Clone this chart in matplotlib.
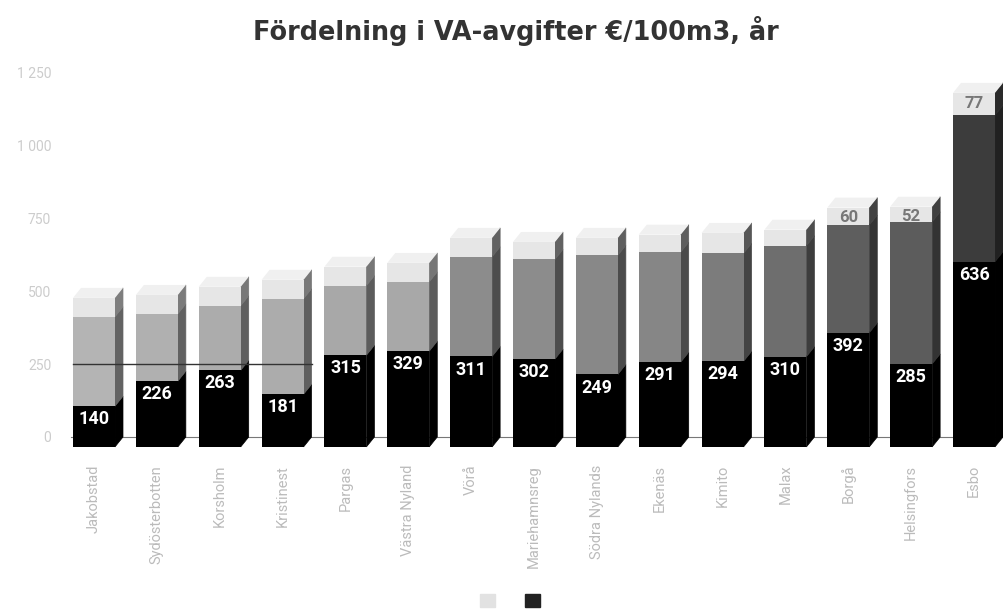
#!/usr/bin/env python3
# -*- coding: utf-8 -*-

import numpy as np
import matplotlib
matplotlib.use('Agg')
import matplotlib.pyplot as plt
from matplotlib.patches import Patch

# names are hard to read in the reference, best guesses of similar length
names = ['Jakobstad', 'Sydösterbotten', 'Korsholm', 'Kristinest', 'Pargas', 'Västra Nyland',
         'Vörå', 'Mariehamnsreg', 'Södra Nylands', 'Ekenäs', 'Kimito', 'Malax', 'Borgå', 'Helsingfors', 'Esbo']
dark = [140, 226, 263, 181, 315, 329, 311, 302, 249, 291, 294, 310, 392, 285, 636]
totals = [512, 522, 550, 574, 619, 632, 718, 704, 718, 729, 735, 746, 822, 825, 1216]
top = [65, 65, 65, 65, 65, 65, 65, 60, 60, 60, 70, 55, 60, 52, 77]
top_labels = [None] * 12 + [60, 52, 77]
# how dark the middle part of each bar looks (it is dithered in the reference)
mid_grey = ['#b4b4b4', '#b0b0b0', '#acacac', '#acacac', '#a8a8a8', '#a8a8a8', '#8c8c8c', '#8c8c8c',
            '#888888', '#868686', '#7c7c7c', '#6e6e6e', '#5e5e5e', '#5c5c5c', '#3c3c3c']
ticks = [0, 250, 500, 750, 1000, 1250]
tick_labels = ['0', '250', '500', '750', '1 000', '1 250']

depth_x = 0.127
depth_y = 34
bar_width = 0.668

plt.rcParams['font.family'] = ['Roboto', 'DejaVu Sans']

W, H = 1004, 609
fig = plt.figure(figsize=(W / 100, H / 100), dpi=100)
ax = fig.add_axes([70.57 / W, (H - 437) / H, 933.43 / W, 364 / H])
ax.set_xlim(-0.5, 14.35)
ax.set_ylim(0, 1250)
for s in ['top', 'right', 'left']:
    ax.spines[s].set_visible(False)
ax.spines['bottom'].set_color('#777777')
ax.spines['bottom'].set_zorder(0)


def side_face(x, y0, y1, color):
    # right hand side of the box, from front edge to back edge
    r = x + bar_width / 2 - depth_x
    ax.fill([r, r + depth_x, r + depth_x, r],
            [y0 - depth_y, y0, y1, y1 - depth_y],
            color=color, lw=0.5, clip_on=False, zorder=2)


def shade(color, f=0.55):
    rgb = np.array(matplotlib.colors.to_rgb(color))
    return tuple(rgb * f)


x = np.arange(len(names))
front = x - depth_x
mid = [t - d - p for t, d, p in zip(totals, dark, top)]
mid_bottom = list(dark)
top_bottom = [d + m for d, m in zip(dark, mid)]

for i in x:
    side_face(i, 0, dark[i], '#000000')
    side_face(i, mid_bottom[i], top_bottom[i], shade(mid_grey[i]))
    side_face(i, top_bottom[i], totals[i], shade(mid_grey[i], 0.7))
    # top face
    l = i - bar_width / 2 - depth_x
    ax.fill([l, l + bar_width, l + bar_width + depth_x, l + depth_x],
            [totals[i] - depth_y, totals[i] - depth_y, totals[i], totals[i]],
            color='#f0f0f0', lw=0, clip_on=False, zorder=2)

ax.bar(front, dark, bar_width, bottom=-depth_y, color='#000000', clip_on=False, zorder=3)
ax.bar(front, mid, bar_width, bottom=np.array(mid_bottom) - depth_y, color=mid_grey, clip_on=False, zorder=3)
ax.bar(front, top, bar_width, bottom=np.array(top_bottom) - depth_y, color='#e6e6e6', clip_on=False, zorder=3)

# gridline showing across the first four bars
ax.plot([front[0] - bar_width / 2, 3 + bar_width / 2], [250, 250], color='#333333', lw=1, zorder=4)

for i in x:
    ax.annotate(str(dark[i]), (front[i], dark[i] - depth_y), xytext=(0, -3), textcoords='offset points',
                ha='center', va='top', color='white', fontsize=13, fontweight='bold', zorder=5)
    if top_labels[i] is not None:
        ax.annotate(str(top_labels[i]), (front[i], totals[i] - depth_y), xytext=(0, -2), textcoords='offset points',
                    ha='center', va='top', color='#777777', fontsize=12, fontweight='bold', zorder=5)

ax.set_yticks(ticks)
ax.set_yticklabels(tick_labels, color='#cccccc', fontsize=10)
ax.tick_params(axis='y', length=0, pad=14)
ax.set_xticks(front)
ax.set_xticklabels(names, rotation=90, color='#bbbbbb', fontsize=10.5, ha='center', va='top')
ax.tick_params(axis='x', length=0, pad=20)

fig.text(516 / W, 1 - 31 / H, 'Fördelning i VA-avgifter €/100m3, år', ha='center', va='center',
         family='DejaVu Sans', fontsize=18.4, fontweight='bold', color='#333333')

handles = [Patch(color='#e2e2e2'), Patch(color='#222222')]
fig.legend(handles, [' ', ' '], ncol=2, loc='center', bbox_to_anchor=(514 / W, 1 - 601 / H), frameon=False,
           handlelength=1.2, handleheight=1.2, columnspacing=1.8, handletextpad=0.4, fontsize=9)

fig.savefig('out.png', dpi=100)
